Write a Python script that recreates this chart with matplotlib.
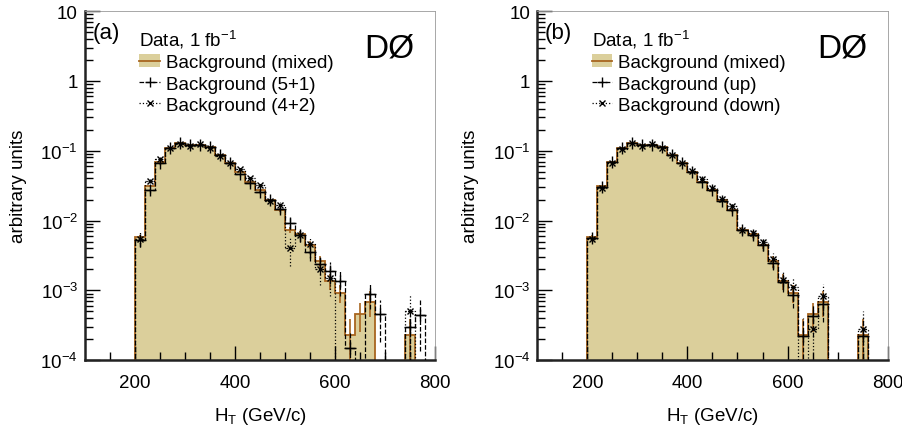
import numpy as np
import matplotlib
matplotlib.use("Agg")
import matplotlib.pyplot as plt
from matplotlib.patches import Patch
from matplotlib.lines import Line2D

plt.rcParams['font.family'] = ['Liberation Sans', 'DejaVu Sans']
plt.rcParams['mathtext.fontset'] = 'custom'
plt.rcParams['mathtext.rm'] = 'Liberation Sans'
plt.rcParams['mathtext.it'] = 'Liberation Sans:italic'
plt.rcParams['mathtext.bf'] = 'Liberation Sans:bold'

# H_T bins, 20 GeV wide from 200 to 780
edges = np.arange(200, 781, 20)
centers = edges[:-1] + 10

# Background (mixed), same in both panels
mixed = [5.8e-3, 0.031, 0.069, 0.11, 0.129, 0.122, 0.122, 0.114, 0.087, 0.066,
         0.049, 0.036, 0.027, 0.0195, 0.0143, 0.0073, 0.0064, 0.0045, 0.0026, 0.00137,
         9.3e-4, 2.3e-4, 4.6e-4, 6.9e-4, 0, 0, 0, 2.3e-4, 0]
mixed_err = [0.08, 0.04, 0.03, 0.02, 0.02, 0.02, 0.02, 0.02, 0.02, 0.03,
             0.03, 0.04, 0.04, 0.05, 0.06, 0.10, 0.12, 0.14, 0.20, 0.25,
             0.30, 0.70, 0.45, 0.40, 0, 0, 0, 0.70, 0]

# panel (a)
bkg_51 = [5.3e-3, 0.027, 0.066, 0.11, 0.131, 0.122, 0.122, 0.114, 0.087, 0.066,
          0.046, 0.034, 0.026, 0.0195, 0.0145, 0.0092, 0.0062, 0.0035, 0.0024, 0.0019,
          0.00137, 1.5e-4, 0, 8.9e-4, 4.6e-4, 0, 0, 3.0e-4, 4.5e-4]
bkg_51_err = [0.20, 0.08, 0.05, 0.04, 0.04, 0.04, 0.04, 0.04, 0.05, 0.05,
              0.06, 0.07, 0.08, 0.10, 0.12, 0.18, 0.20, 0.25, 0.30, 0.35,
              0.40, 0.70, 0, 0.40, 0.60, 0, 0, 0.80, 0.70]
bkg_42 = [5.5e-3, 0.037, 0.077, 0.11, 0.125, 0.115, 0.125, 0.108, 0.085, 0.066,
          0.054, 0.040, 0.032, 0.019, 0.0165, 0.0040, 0.0062, 0.0046, 0.0020, 0.0015,
          0, 0, 0, 0, 0, 0, 0, 5.0e-4, 0]
bkg_42_err = [0.25, 0.08, 0.05, 0.04, 0.04, 0.04, 0.04, 0.04, 0.05, 0.05,
              0.06, 0.07, 0.08, 0.10, 0.12, 0.45, 0.20, 0.25, 0.40, 0.45,
              0, 0, 0, 0, 0, 0, 0, 0.80, 0]

# panel (b)
bkg_up = [5.6e-3, 0.030, 0.068, 0.11, 0.128, 0.121, 0.12, 0.112, 0.088, 0.067,
          0.049, 0.036, 0.027, 0.0193, 0.0141, 0.0072, 0.0063, 0.0044, 0.0025, 0.00132,
          8.5e-4, 2.2e-4, 4.3e-4, 6.4e-4, 0, 0, 0, 2.2e-4, 0]
bkg_down = [5.4e-3, 0.029, 0.066, 0.106, 0.13, 0.117, 0.124, 0.108, 0.086, 0.067,
            0.052, 0.039, 0.029, 0.0205, 0.0162, 0.0073, 0.0066, 0.0049, 0.0028, 0.00142,
            0.00113, 0, 2.8e-4, 8.4e-4, 0, 0, 0, 2.8e-4, 0]
var_err = [0.10, 0.05, 0.03, 0.02, 0.02, 0.02, 0.02, 0.02, 0.03, 0.03,
           0.04, 0.05, 0.05, 0.06, 0.08, 0.12, 0.14, 0.16, 0.22, 0.28,
           0.35, 0.80, 0.50, 0.45, 0, 0, 0, 0.80, 0]

ytick_vals = [1e-4, 1e-3, 1e-2, 1e-1, 1, 10]
ytick_labels = ['$10^{-4}$', '$10^{-3}$', '$10^{-2}$', '$10^{-1}$', '1', '10']

FILL = '#dbcf9b'
EDGE = '#a8651f'
FS = 13.5


def draw_points(ax, vals, rel, marker, ls, ms):
    v = np.array(vals, dtype=float)
    r = np.array(rel, dtype=float)
    ok = v > 0
    hi = v * r
    lo = np.minimum(v * r, v - 1e-6)
    eb = ax.errorbar(centers[ok], v[ok], yerr=[lo[ok], hi[ok]], xerr=10,
                     fmt=marker, ms=ms, mew=1.0, color='k', ecolor='k',
                     elinewidth=0.9, capsize=0, zorder=4)
    for c in eb[2]:
        c.set_linestyle(ls)
    ax.stairs(np.where(v > 0, v, 1e-6), edges, baseline=1e-6, color='k',
              ls=ls, lw=0.9, zorder=3)


def draw_panel(ax, tag, s1, e1, lab1, s2, e2, lab2):
    m = np.array(mixed, dtype=float)
    me = np.array(mixed_err, dtype=float)
    mplot = np.where(m > 0, m, 1e-6)
    ax.stairs(mplot, edges, baseline=1e-6, fill=True, color=FILL, zorder=1)
    ax.stairs(mplot, edges, baseline=1e-6, color=EDGE, lw=1.3, zorder=2)
    ok = m > 0
    lo = np.minimum(m * me, m - 1e-6)
    ax.errorbar(centers[ok], m[ok], yerr=[lo[ok], (m * me)[ok]], fmt='none',
                ecolor=EDGE, elinewidth=1.2, capsize=0, zorder=2)

    draw_points(ax, s1, e1, '+', '--', 9)
    draw_points(ax, s2, e2, 'x', ':', 5)

    ax.set_yscale('log')
    ax.set_xlim(100, 800)
    ax.set_ylim(1e-4, 10)
    ax.set_yticks(ytick_vals)
    ax.set_yticklabels(ytick_labels)
    ax.set_xticks([200, 400, 600, 800])
    ax.set_xticks(np.arange(150, 800, 50), minor=True)
    ax.tick_params(axis='both', which='both', direction='in', labelsize=FS,
                   top=False, right=False, width=1.0)
    ax.tick_params(axis='y', which='major', length=11, pad=5)
    ax.tick_params(axis='y', which='minor', length=6)
    ax.tick_params(axis='x', which='major', length=10, pad=10)
    ax.tick_params(axis='x', which='minor', length=6)
    for s in ['left', 'bottom']:
        ax.spines[s].set_linewidth(1.8)
        ax.spines[s].set_color('#222222')
    for s in ['top', 'right']:
        ax.spines[s].set_linewidth(0.6)
        ax.spines[s].set_color('#999999')

    ax.set_xlabel(r'H$_\mathrm{T}$ (GeV/c)', fontsize=FS, labelpad=10)
    ax.set_ylabel('arbitrary units', fontsize=FS)
    ax.yaxis.set_label_coords(-0.165, 0.5)

    ax.text(0.022, 0.94, tag, transform=ax.transAxes, fontsize=16,
            ha='left', va='center')
    ax.text(0.87, 0.895, 'DØ', transform=ax.transAxes, fontsize=24,
            ha='center', va='center')

    h_mixed = (Patch(facecolor=FILL, edgecolor='none'),
               Line2D([], [], color=EDGE, lw=1.3))
    h1 = Line2D([], [], color='k', ls='--', lw=0.9, marker='+', ms=7)
    h2 = Line2D([], [], color='k', ls=':', lw=0.9, marker='x', ms=4)
    leg = ax.legend([h_mixed, h1, h2], ['Background (mixed)', lab1, lab2],
                    title='Data, 1 fb$^{-1}$', title_fontsize=FS,
                    loc='upper left', bbox_to_anchor=(0.145, 0.962),
                    frameon=False, fontsize=FS, alignment='left',
                    handlelength=1.1, handletextpad=0.3, labelspacing=0.22,
                    borderpad=0.2, borderaxespad=0.0)
    leg.set_zorder(6)


fig = plt.figure(figsize=(9.03, 4.31), dpi=100)
ax1 = fig.add_axes([0.094, 0.162, 0.388, 0.81])
ax2 = fig.add_axes([0.595, 0.162, 0.388, 0.81])

draw_panel(ax1, '(a)', bkg_51, bkg_51_err, 'Background (5+1)',
           bkg_42, bkg_42_err, 'Background (4+2)')
draw_panel(ax2, '(b)', bkg_up, var_err, 'Background (up)',
           bkg_down, var_err, 'Background (down)')

fig.savefig('out.png', dpi=100)
